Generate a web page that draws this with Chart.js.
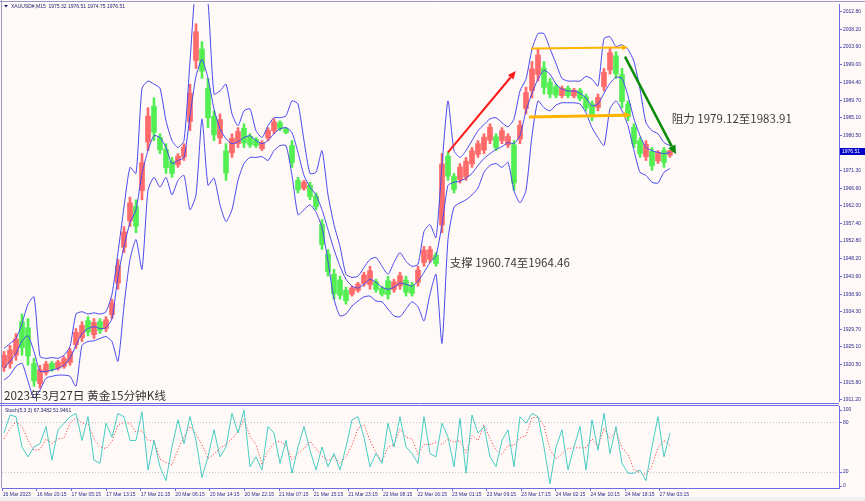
<!DOCTYPE html>
<html>
<head>
<meta charset="utf-8">
<script src="https://cdn.jsdelivr.net/npm/chart.js@4/dist/chart.umd.min.js"></script>
<style>
html, body { margin: 0; padding: 0; background: #f0f0f0; }
#wrap { position: relative; width: 865px; height: 501px; }
#main { position: absolute; left: 0; top: 0; }
#stoch { position: absolute; left: 0; top: 405px; }
</style>
</head>
<body>
<div id="wrap">
  <canvas id="main" width="865" height="405"></canvas>
  <canvas id="stoch" width="865" height="96"></canvas>
</div>
<script>
const opens = [1919.7,1920.7,1923.0,1931.7,1930.1,1920.7,1915.5,1918.4,1920.8,1919.5,1920.0,1921.0,1925.7,1927.5,1932.0,1928.3,1931.7,1929.9,1933.5,1941.8,
  1951.2,1958.1,1961.9,1966.0,1978.7,1988.1,1979.9,1976.8,1973.7,1972.8,1974.8,1984.1,2000.1,2003.1,1992.8,1985.4,1979.8,1976.4,1975.9,1978.3,
  1982.3,1980.2,1979.4,1977.0,1979.8,1981.7,1983.8,1982.2,1977.8,1968.7,1966.6,1967.4,1964.6,1957.1,1949.4,1944.1,1942.6,1939.9,1938.9,1939.9,
  1941.7,1941.4,1942.1,1940.5,1942.4,1940.1,1941.1,1942.6,1941.3,1942.0,1947.2,1948.0,1949.1,1957.0,1975.0,1969.7,1968.9,1969.6,1973.0,1975.5,
  1976.6,1979.2,1980.1,1979.1,1978.0,1978.0,1979.5,1987.5,1992.2,1996.4,1998.1,1994.4,1993.2,1990.9,1992.8,1990.8,1992.2,1990.6,1988.7,1987.8,
  1993.2,1997.6,2001.3,1996.4,1988.7,1982.6,1979.1,1974.9,1976.3,1973.8,1976.5,1975.32];
const highs = [1923.9,1925.5,1928.6,1933.7,1932.5,1922.1,1920.3,1921.3,1921.3,1921.6,1922.6,1924.7,1929.9,1931.7,1933.0,1932.5,1932.5,1933.0,1937.6,1948.0,
  1956.6,1964.3,1963.6,1975.7,1987.7,1990.3,1980.9,1978.3,1974.7,1975.7,1978.3,1993.9,2009.7,2005.0,1995.4,1986.9,1986.1,1978.3,1980.9,1982.5,
  1983.5,1980.9,1979.9,1979.1,1982.5,1984.8,1984.3,1982.5,1979.1,1969.5,1968.7,1968.2,1965.4,1958.4,1950.6,1945.4,1943.6,1940.7,1941.0,1942.0,
  1944.6,1946.2,1942.8,1941.0,1943.6,1942.8,1944.6,1943.6,1942.0,1946.2,1951.4,1951.4,1949.8,1975.7,1976.0,1970.5,1973.1,1974.7,1977.3,1979.1,
  1980.9,1983.5,1980.9,1982.5,1980.9,1979.1,1984.3,1993.1,1999.8,2003.2,1999.8,1995.4,1993.9,1993.4,1993.4,1992.8,1992.8,1991.3,1989.5,1991.3,
  1998.0,2003.2,2002.4,1998.0,1989.5,1983.5,1979.9,1979.1,1977.3,1976.5,1977.3,1976.51];
const lows = [1918.7,1919.5,1921.6,1922.9,1920.3,1914.8,1914.3,1917.7,1918.7,1919.0,1919.5,1920.3,1924.7,1926.5,1928.0,1927.3,1928.6,1929.1,1932.5,1940.2,
  1949.8,1956.6,1955.0,1963.6,1976.5,1979.1,1975.7,1970.5,1969.5,1972.1,1973.9,1981.7,1998.0,1995.4,1982.5,1979.1,1978.3,1968.7,1974.7,1977.3,
  1977.3,1977.3,1977.3,1976.5,1979.1,1980.9,1981.7,1980.9,1972.1,1965.4,1966.1,1963.6,1961.0,1950.6,1943.6,1937.6,1937.6,1936.3,1938.4,1939.4,
  1941.0,1940.2,1939.4,1938.4,1937.6,1939.4,1940.2,1938.4,1938.4,1941.0,1946.2,1947.2,1946.2,1955.0,1968.7,1965.4,1968.0,1968.7,1972.1,1974.7,
  1975.7,1978.3,1976.5,1978.3,1977.3,1966.1,1978.3,1986.1,1990.3,1994.7,1991.3,1990.3,1990.3,1990.3,1990.3,1990.3,1989.5,1986.9,1984.3,1986.9,
  1992.1,1996.5,1995.4,1987.7,1984.3,1977.3,1974.7,1973.9,1971.3,1973.1,1972.1,1974.75];
const closes = [1922.9,1924.3,1927.2,1924.9,1922.7,1916.2,1919.1,1920.6,1919.2,1921.1,1922.0,1923.9,1928.9,1930.7,1929.0,1931.5,1929.4,1932.2,1936.6,1946.4,
  1955.2,1962.8,1956.7,1973.3,1985.5,1981.3,1976.7,1972.0,1970.5,1975.0,1977.4,1991.5,2007.6,1997.3,1985.1,1980.6,1984.6,1970.6,1979.7,1981.5,
  1978.5,1978.0,1977.8,1978.6,1981.8,1984.0,1982.2,1981.2,1973.4,1966.2,1968.2,1964.4,1961.8,1951.9,1944.8,1939.0,1938.6,1937.2,1940.5,1941.5,
  1943.9,1945.0,1940.1,1938.9,1938.8,1942.1,1943.7,1939.4,1939.1,1945.2,1950.4,1950.6,1946.9,1973.0,1969.8,1966.3,1972.2,1973.7,1976.4,1978.3,
  1980.0,1982.6,1977.3,1981.7,1980.2,1968.0,1983.1,1991.7,1997.9,2001.5,1993.0,1991.3,1991.0,1992.8,1990.9,1992.3,1990.1,1987.7,1985.3,1990.4,
  1997.0,2002.1,1996.6,1989.3,1985.3,1978.3,1975.7,1978.1,1972.5,1976.0,1973.4,1976.51];

const bandUpper = [1924.7,1926.0,1927.3,1931.2,1936.3,1938.2,1922.6,1922.1,1922.3,1922.1,1922.9,1925.2,1933.7,1934.3,1933.7,1934.0,1933.7,1934.3,1938.9,1949.8,
  1961.7,1972.1,1970.5,1992.8,1994.7,1993.9,1992.8,1984.3,1979.1,1977.3,1979.1,1999.8,2020.6,2023.2,2015.4,1991.3,1992.1,1993.9,1986.1,1983.0,
  1986.9,1987.4,1981.7,1979.9,1983.0,1985.1,1985.1,1985.6,1989.5,1988.7,1979.1,1970.5,1970.8,1976.5,1964.9,1957.1,1951.4,1944.1,1943.3,1943.6,
  1945.9,1948.0,1948.5,1946.2,1944.1,1947.2,1949.8,1947.5,1946.2,1946.7,1955.3,1957.1,1953.7,1972.6,1989.5,1976.5,1974.7,1976.5,1979.1,1981.7,
  1983.3,1984.8,1985.1,1983.8,1982.7,1984.8,1992.1,1995.2,2003.0,2007.1,2007.1,2003.2,1999.3,1995.4,1994.7,1994.7,1994.7,1995.9,1995.2,1993.4,
  2005.8,2006.3,2003.7,2004.2,2003.0,1999.8,1992.6,1983.8,1981.7,1980.9,1978.6,1977.8];
const bandMiddle = [1919.5,1921.3,1923.4,1926.7,1928.0,1923.9,1918.7,1918.7,1919.0,1919.5,1920.3,1922.1,1925.5,1928.6,1929.9,1930.4,1929.9,1930.1,1932.5,1943.6,
  1951.4,1957.6,1961.0,1970.5,1976.5,1980.4,1979.9,1977.3,1973.1,1973.9,1974.7,1985.6,1995.9,2000.4,1995.4,1987.4,1982.2,1979.6,1978.3,1978.8,
  1979.9,1980.4,1979.1,1978.3,1979.1,1980.9,1982.2,1982.5,1981.2,1976.0,1970.0,1966.9,1964.9,1961.0,1955.8,1950.6,1946.2,1942.8,1941.0,1940.5,
  1941.5,1942.8,1942.0,1940.7,1940.2,1940.7,1941.8,1941.5,1941.0,1942.3,1944.6,1947.2,1949.0,1957.1,1967.4,1968.2,1968.5,1969.3,1970.5,1972.6,
  1974.4,1975.7,1976.8,1977.5,1978.6,1978.3,1980.4,1986.9,1991.5,1995.2,1997.5,1996.5,1993.9,1992.6,1992.1,1992.1,1991.5,1990.3,1988.2,1988.7,
  1991.5,1994.1,1995.7,1995.4,1990.8,1984.8,1980.4,1977.3,1976.5,1976.0,1975.7,1976.0];
const bandLower = [1916.4,1917.7,1920.0,1920.8,1916.1,1911.7,1913.8,1916.9,1917.4,1917.7,1917.7,1917.4,1914.8,1925.5,1926.5,1926.7,1927.3,1927.8,1926.5,1921.3,
  1935.8,1948.0,1953.2,1945.4,1966.1,1969.5,1966.9,1969.5,1964.9,1968.7,1970.0,1961.0,1964.9,1984.8,1967.4,1969.3,1962.3,1957.9,1961.0,1968.7,
  1973.1,1974.7,1974.7,1974.9,1973.9,1976.5,1977.8,1977.8,1970.0,1959.7,1961.0,1962.3,1960.4,1956.3,1947.5,1937.6,1933.2,1933.7,1935.8,1937.1,
  1938.2,1938.4,1937.1,1936.9,1935.0,1933.2,1933.0,1935.0,1936.9,1935.6,1931.9,1938.9,1944.1,1926.0,1953.2,1961.7,1962.8,1963.6,1964.9,1966.7,
  1970.8,1972.6,1973.1,1972.1,1973.4,1966.0,1962.8,1966.1,1980.4,1989.5,1987.7,1986.9,1988.4,1989.0,1989.0,1989.0,1988.7,1986.4,1982.5,1979.9,
  1977.8,1987.4,1989.5,1986.9,1983.0,1976.5,1970.8,1970.0,1968.2,1968.0,1970.8,1971.8];

const stochK = [67,89,87,50,38,50,54,75,34,71,79,87,91,58,87,34,30,79,62,91,87,58,58,93,22,58,26,9,50,83,
  54,87,58,13,38,71,38,50,91,67,95,26,38,22,75,67,30,58,18,50,75,46,22,50,26,42,22,50,83,87,
  62,26,42,30,79,50,87,50,42,30,87,42,38,79,62,26,85,18,89,67,75,38,26,58,71,26,87,79,91,87,
  50,5,50,71,22,50,75,22,83,46,91,42,75,30,18,18,22,9,50,87,38,67.35];
const stochD = [60,72,81,75,58,46,47,60,54,60,61,79,86,79,79,60,50,48,57,77,80,79,68,70,58,58,35,31,28,47,
  62,75,66,53,36,41,49,53,60,69,84,63,53,29,45,55,57,52,35,42,48,57,48,39,33,39,30,38,52,73,
  77,58,43,33,50,53,72,62,60,41,53,53,56,53,60,56,58,43,64,58,77,60,46,41,52,52,61,64,86,86,
  76,47,35,42,48,49,49,49,60,50,73,60,69,49,41,22,19,16,27,49,58,51.95];

const priceTicks = [2012.80,2008.20,2003.60,1999.00,1994.40,1989.70,1985.10,1980.50,1975.90,1971.30,1966.60,1962.00,
  1957.40,1952.80,1948.20,1943.60,1938.90,1934.30,1929.70,1925.10,1920.50,1915.80,1911.20];
const stochLevels = [100, 80, 20, 0];
const timeLabels = ['16 Mar 2023','16 Mar 20:15','17 Mar 05:15','17 Mar 13:15','17 Mar 21:15','20 Mar 06:15','20 Mar 14:15',
  '20 Mar 22:15','21 Mar 07:15','21 Mar 15:15','21 Mar 23:15','22 Mar 08:15','22 Mar 16:15','23 Mar 01:15','23 Mar 09:15',
  '23 Mar 17:15','24 Mar 02:15','24 Mar 10:15','24 Mar 18:15','27 Mar 03:15'];
const lastPrice = 1976.51;

const arrows = [
  { from: [74.0, 1976.0], to: [85.3, 1997.3], color: '#ff1a1a', width: 2, head: 8 },
  { from: [87.8, 2003.2], to: [104.0, 2003.5], color: '#ffb400', width: 2, head: 6 },
  { from: [87.5, 1985.3], to: [104.5, 1985.8], color: '#ffb400', width: 3, head: 7 },
  { from: [103.5, 2001.1], to: [112.0, 1975.5], color: '#0a8c0a', width: 2.5, head: 9 }
];
const notes = [
  { text: '支撑 1960.74至1964.46', at: [74.3, 1947.2] },
  { text: '阻力 1979.12至1983.91', at: [111.3, 1984.8] }
];

const BG = '#fffaf8';
const AXIS = '#6c6ce4';
const AXIS_TEXT = '#2a2a8a';
const UP = '#ff6a6a';
const DOWN = '#52ee52';
const BAND = '#4848f0';
const X_MIN = -0.333, X_MAX = 139.17;
const LABEL_STEP = 5.765;
const SMALL = '5px "Liberation Sans"';

function pts(arr) {
  return arr.map((v, i) => ({ x: i, y: v }));
}

function drawArrow(ctx, x1, y1, x2, y2, color, width, head) {
  const ang = Math.atan2(y2 - y1, x2 - x1);
  const bx = x2 - head * Math.cos(ang), by = y2 - head * Math.sin(ang);
  const w = head * 0.45;
  ctx.save();
  ctx.strokeStyle = color;
  ctx.fillStyle = color;
  ctx.lineWidth = width;
  ctx.beginPath();
  ctx.moveTo(x1, y1);
  ctx.lineTo(bx, by);
  ctx.stroke();
  ctx.beginPath();
  ctx.moveTo(x2, y2);
  ctx.lineTo(bx + w * Math.sin(ang), by - w * Math.cos(ang));
  ctx.lineTo(bx - w * Math.sin(ang), by + w * Math.cos(ang));
  ctx.closePath();
  ctx.fill();
  ctx.restore();
}

const mainOverlay = {
  id: 'mainOverlay',
  beforeDraw(chart) {
    const ctx = chart.ctx;
    ctx.save();
    ctx.fillStyle = BG;
    ctx.fillRect(0, 0, chart.width, chart.height);
    ctx.restore();
  },
  afterDatasetsDraw(chart) {
    const ctx = chart.ctx, xs = chart.scales.x, ys = chart.scales.y;
    arrows.forEach(a => {
      drawArrow(ctx, xs.getPixelForValue(a.from[0]), ys.getPixelForValue(a.from[1]),
        xs.getPixelForValue(a.to[0]), ys.getPixelForValue(a.to[1]), a.color, a.width, a.head);
    });
    ctx.save();
    ctx.font = '11.5px "Noto Sans CJK SC"';
    ctx.fillStyle = '#3c3c3c';
    ctx.textBaseline = 'middle';
    notes.forEach(n => {
      ctx.fillText(n.text, xs.getPixelForValue(n.at[0]), ys.getPixelForValue(n.at[1]));
    });
    ctx.font = '11.7px "Noto Sans CJK SC"';
    ctx.fillStyle = '#333333';
    ctx.fillText('2023年3月27日 黄金15分钟K线', 4, 396);
    ctx.restore();
  },
  afterDraw(chart) {
    const ctx = chart.ctx, ys = chart.scales.y, area = chart.chartArea;
    ctx.save();
    ctx.strokeStyle = '#9a9ac8';
    ctx.lineWidth = 1;
    ctx.beginPath();
    ctx.moveTo(0, 1.5); ctx.lineTo(chart.width, 1.5);
    ctx.moveTo(1.5, 0); ctx.lineTo(1.5, chart.height);
    ctx.stroke();
    ctx.strokeStyle = AXIS;
    ctx.beginPath();
    ctx.moveTo(0, 403.5); ctx.lineTo(area.right, 403.5);
    ctx.stroke();
    // header
    ctx.fillStyle = '#1a1a6e';
    ctx.beginPath();
    ctx.moveTo(4, 5); ctx.lineTo(8, 5); ctx.lineTo(6, 7.5); ctx.closePath();
    ctx.fill();
    ctx.font = SMALL;
    ctx.textBaseline = 'middle';
    ctx.fillText('XAUUSD#,M15  1975.32 1976.51 1974.75 1976.51', 11, 6.5);
    // current price box
    const py = Math.round(ys.getPixelForValue(lastPrice));
    ctx.fillStyle = '#0000c8';
    ctx.fillRect(area.right + 1, py - 3, 25, 7);
    ctx.fillStyle = '#ffffff';
    ctx.fillText(lastPrice.toFixed(2), area.right + 3, py + 0.5);
    ctx.restore();
  }
};

const candleColors = opens.map((o, i) => closes[i] >= o ? UP : DOWN);

new Chart(document.getElementById('main'), {
  type: 'bar',
  data: {
    datasets: [
      { type: 'line', data: pts(bandUpper), borderColor: BAND, borderWidth: 1, pointRadius: 0, tension: 0.2, order: 0 },
      { type: 'line', data: pts(bandMiddle), borderColor: BAND, borderWidth: 1, pointRadius: 0, tension: 0.2, order: 0 },
      { type: 'line', data: pts(bandLower), borderColor: BAND, borderWidth: 1, pointRadius: 0, tension: 0.2, order: 0 },
      { type: 'bar', data: lows.map((l, i) => ({ x: i, y: [l, highs[i]] })), backgroundColor: candleColors,
        barThickness: 2, grouped: false, order: 2 },
      { type: 'bar', data: opens.map((o, i) => ({ x: i, y: [o, closes[i]] })), backgroundColor: candleColors,
        barThickness: 5, grouped: false, order: 1 }
    ]
  },
  options: {
    responsive: false,
    animation: false,
    devicePixelRatio: 1,
    layout: { padding: { left: 2, top: 2, bottom: 2, right: 0 } },
    plugins: { legend: { display: false }, tooltip: { enabled: false } },
    scales: {
      x: { type: 'linear', min: X_MIN, max: X_MAX, offset: false, display: false },
      y: {
        position: 'right',
        min: 1910.93,
        max: 2014.87,
        afterBuildTicks: s => { s.ticks = priceTicks.map(v => ({ value: v })); },
        afterFit: s => { s.width = 26; },
        ticks: { font: { family: 'Liberation Sans', size: 5 }, color: AXIS_TEXT, padding: 1,
          callback: v => Number(v).toFixed(2) },
        grid: { drawOnChartArea: false, tickLength: 3, color: AXIS },
        border: { color: AXIS }
      }
    }
  },
  plugins: [mainOverlay]
});

const stochOverlay = {
  id: 'stochOverlay',
  beforeDraw(chart) {
    const ctx = chart.ctx;
    ctx.save();
    ctx.fillStyle = BG;
    ctx.fillRect(0, 0, chart.width, chart.height);
    ctx.fillStyle = '#f0f0f0';
    ctx.fillRect(0, 92, chart.width, 4);
    ctx.restore();
  },
  beforeDatasetsDraw(chart) {
    const ctx = chart.ctx, ys = chart.scales.y, area = chart.chartArea;
    ctx.save();
    ctx.strokeStyle = '#c4c4c4';
    ctx.setLineDash([1, 2]);
    ctx.lineWidth = 1;
    [80, 20].forEach(v => {
      const y = Math.round(ys.getPixelForValue(v)) + 0.5;
      ctx.beginPath(); ctx.moveTo(area.left, y); ctx.lineTo(area.right, y); ctx.stroke();
    });
    ctx.restore();
  },
  afterDraw(chart) {
    const ctx = chart.ctx, ys = chart.scales.y, area = chart.chartArea;
    ctx.save();
    ctx.strokeStyle = AXIS;
    ctx.lineWidth = 1;
    ctx.beginPath();
    ctx.moveTo(0, 0.5); ctx.lineTo(area.right, 0.5);
    ctx.stroke();
    ctx.strokeStyle = '#9a9ac8';
    ctx.beginPath();
    ctx.moveTo(1.5, 0); ctx.lineTo(1.5, area.bottom);
    ctx.stroke();
    ctx.font = SMALL;
    ctx.fillStyle = AXIS_TEXT;
    ctx.textBaseline = 'middle';
    stochLevels.forEach(v => {
      let y = ys.getPixelForValue(v);
      y = Math.min(Math.max(y, area.top + 3.5), area.bottom - 2.5);
      ctx.strokeStyle = AXIS;
      ctx.beginPath(); ctx.moveTo(area.right, Math.round(y) + 0.5); ctx.lineTo(area.right + 3, Math.round(y) + 0.5); ctx.stroke();
      ctx.fillText(String(v), area.right + 4, y);
    });
    ctx.fillStyle = '#1a1a6e';
    ctx.fillText('Stoch(5,3,3) 67.3482 51.9461', 5, 5.5);
    ctx.restore();
  }
};

new Chart(document.getElementById('stoch'), {
  type: 'line',
  data: {
    datasets: [
      { data: pts(stochD), borderColor: '#ff2a2a', borderWidth: 1, borderDash: [1, 2], pointRadius: 0, tension: 0, order: 1 },
      { data: pts(stochK), borderColor: '#48ccc4', borderWidth: 1, pointRadius: 0, tension: 0, order: 0 }
    ]
  },
  options: {
    responsive: false,
    animation: false,
    devicePixelRatio: 1,
    layout: { padding: { left: 2, top: 1, bottom: 3, right: 0 } },
    plugins: { legend: { display: false }, tooltip: { enabled: false } },
    scales: {
      x: {
        type: 'linear',
        min: X_MIN,
        max: X_MAX,
        afterBuildTicks: s => {
          s.ticks = timeLabels.map((t, k) => ({ value: k === 0 ? -0.2 : 5.5 + (k - 1) * LABEL_STEP }));
        },
        afterFit: s => { s.height = 10; },
        ticks: { font: { family: 'Liberation Sans', size: 5 }, color: AXIS_TEXT, padding: 1, align: 'start',
          autoSkip: false, maxRotation: 0, callback: (v, idx) => timeLabels[idx] },
        grid: { drawOnChartArea: false, tickLength: 3, color: AXIS },
        border: { color: AXIS }
      },
      y: {
        position: 'right',
        min: 0,
        max: 100,
        afterFit: s => { s.width = 26; },
        ticks: { display: false },
        grid: { display: false },
        border: { color: AXIS }
      }
    }
  },
  plugins: [stochOverlay]
});
</script>
</body>
</html>
